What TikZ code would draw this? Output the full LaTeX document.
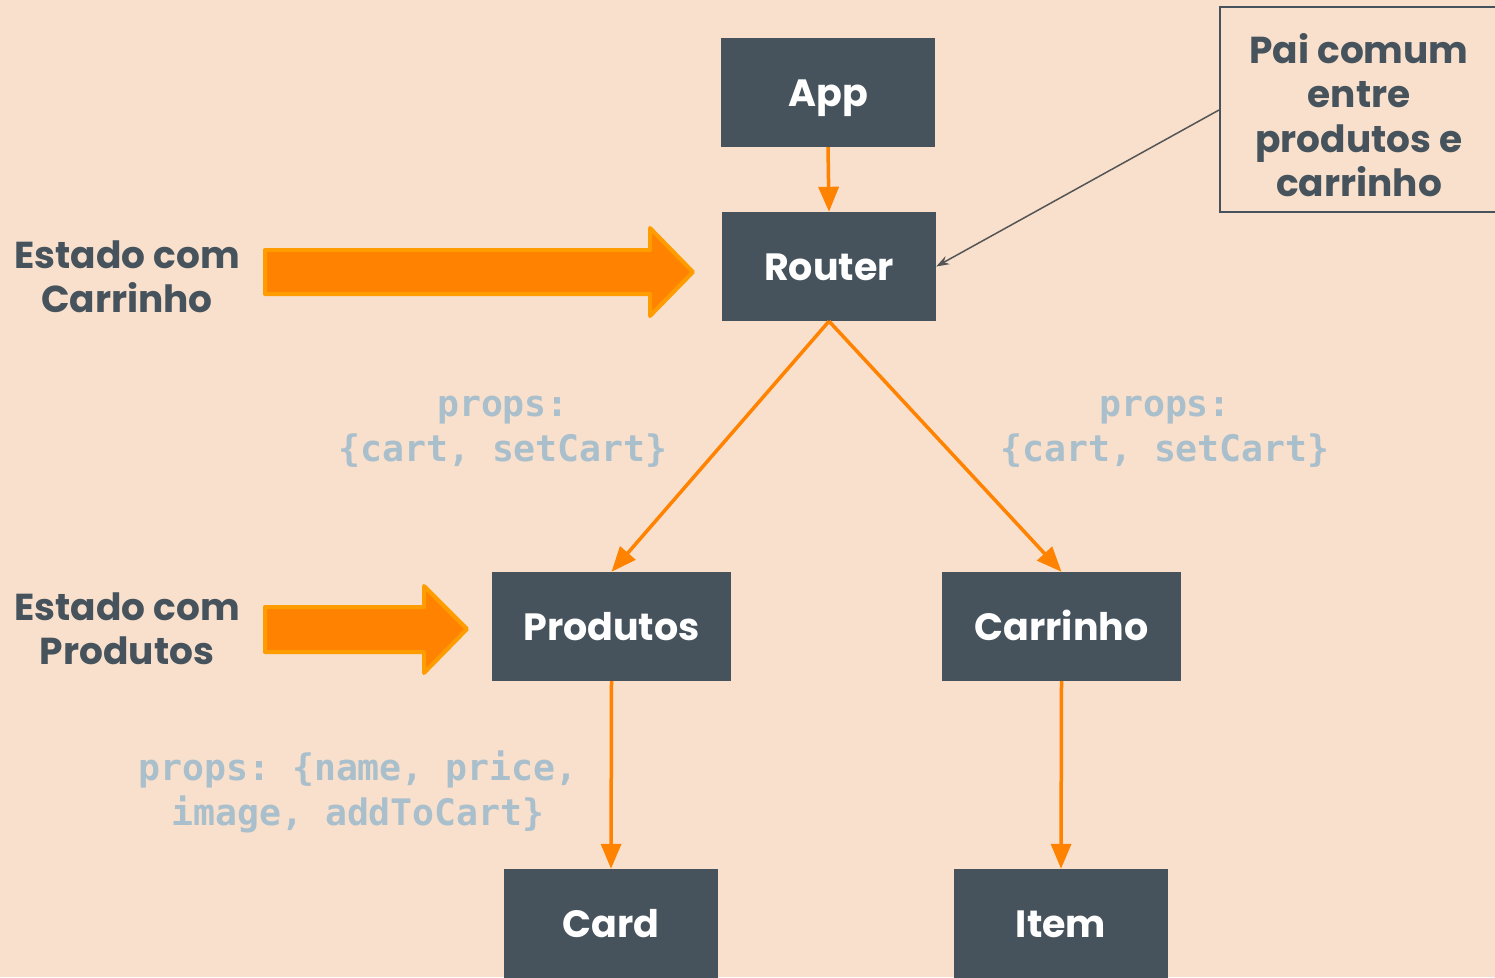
\documentclass[tikz,border=0pt]{standalone}
\usepackage{fontspec}
\setmainfont{Poppins}
\setmonofont{DejaVu Sans Mono}
\usetikzlibrary{arrows.meta}
\definecolor{bg}{HTML}{F8E0CC}
\definecolor{boxc}{HTML}{46535C}
\definecolor{org}{HTML}{FF8200}
\definecolor{orgl}{HTML}{FF9C00}
\definecolor{propc}{HTML}{A9BFCC}
\definecolor{linec}{HTML}{555555}
\tikzset{
  comp/.style={fill=boxc, text=white, font=\fontsize{38}{44}\selectfont\bfseries,
    minimum width=214pt, minimum height=109pt, inner sep=0pt, text height=27pt, text depth=0pt},
  wide/.style={comp, minimum width=239pt},
  note/.style={text=boxc, font=\fontsize{37.5}{44.5}\selectfont\bfseries, align=center, inner sep=0pt},
  props/.style={text=propc, font=\fontsize{36.5}{45}\selectfont\ttfamily\bfseries, align=center, inner sep=0pt},
  flow/.style={draw=org, line width=3.5pt, -{Triangle[length=25pt,width=20pt]}},
  bigarrow/.style={fill=org, draw=orgl, line width=4pt, line join=round},
  pointer/.style={draw=linec, line width=1.5pt, -{Stealth[length=13pt,width=9pt]}}
}
\begin{document}
\begin{tikzpicture}[x=1pt,y=-1pt]
\useasboundingbox (0,0) rectangle (1495,977);
\clip (0,0) rectangle (1495,977);
\fill[bg] (0,0) rectangle (1495,977);

\node[comp] (app) at (828,92.5) {App};
\node[comp] (router) at (829,266.5) {Router};
\node[wide] (produtos) at (611.5,626.5) {Produtos};
\node[wide] (carrinho) at (1061.5,626.5) {Carrinho};
\node[comp] (card) at (611,923.5) {Card};
\node[comp] (item) at (1061,923.5) {Item};

\node[draw=boxc, line width=2pt, minimum width=278pt, minimum height=205pt, inner sep=0pt] (pai) at (1359,109.5) {};
\node[note] (paitext) at (1359,115) {Pai comum\\entre\\produtos e\\carrinho};

\node[note] (est1) at (127,277) {Estado com\\Carrinho};
\node[note] (est2) at (127,629) {Estado com\\Produtos};

\node[props] (p1) at (503,432) {props:\\\{cart, setCart\}};
\node[props] (p2) at (1165,432) {props:\\\{cart, setCart\}};
\node[props] (p3) at (358,792) {props: \{name, price,\\image, addToCart\}};

\draw[bigarrow] (265,250) -- (650,250) -- (650,228) -- (693,272) -- (650,316) -- (650,294) -- (265,294) -- cycle;
\draw[bigarrow] (265,607) -- (424,607) -- (424,586) -- (467,629) -- (424,673) -- (424,652) -- (265,652) -- cycle;

\draw[flow] (app.south) -- (router.north);
\draw[flow] (router.south) -- (produtos.north);
\draw[flow] (router.south) -- (carrinho.north);
\draw[flow] (produtos.south) -- (card.north);
\draw[flow] (carrinho.south) -- (item.north);
\draw[pointer] (pai.west |- 0,110) -- (router.east);
\end{tikzpicture}
\end{document}
